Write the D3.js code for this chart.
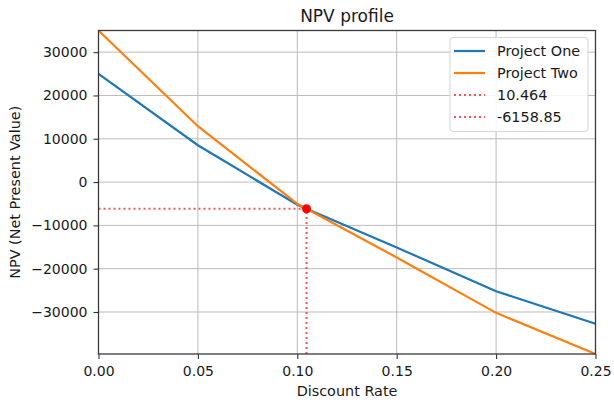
<!DOCTYPE html>
<html>
<head>
<meta charset="utf-8">
<script src="https://cdn.jsdelivr.net/npm/d3@7/dist/d3.min.js"></script>
<style>
  body { margin: 0; background: #fff; }
  text { font-family: "DejaVu Sans", sans-serif; fill: #1a1a1a; }
</style>
</head>
<body>
<svg id="chart" width="614" height="403"></svg>
<script>
// Discount rates at which both NPVs were evaluated
const rates = [0, 0.05, 0.10, 0.15, 0.20, 0.25];
// NPV of each project at those rates
const projectOne = [25000, 8500, -5250, -15100, -25200, -32700];
const projectTwo = [35000, 12900, -5020, -17400, -30200, -39700];
// Crossover (Fisher) point of the two profiles
const crossRate = 0.10464;
const crossNPV = -6158.85;
// Axis ticks
const xTicks = [0, 0.05, 0.10, 0.15, 0.20, 0.25];
const yTicks = [-30000, -20000, -10000, 0, 10000, 20000, 30000];
const seriesNames = ["Project One", "Project Two"];

const colors = { one: "#1f77b4", two: "#ff7f0e", cross: "#ff1a1a" };

const svg = d3.select("#chart");
const W = 614, H = 403;
const margin = { left: 98.5, right: W - 595.5, top: 30.5, bottom: H - 354 };

const allValues = projectOne.concat(projectTwo);
const x = d3.scaleLinear()
  .domain(d3.extent(rates))
  .range([margin.left, W - margin.right]);
const y = d3.scaleLinear()
  .domain(d3.extent(allValues))
  .range([H - margin.bottom, margin.top]);

const minus = s => s.replace("-", "\u2212");

// grid
const grid = svg.append("g").attr("stroke", "#bcbcbc").attr("stroke-width", 1);
grid.selectAll("line.gx").data(xTicks).join("line")
  .attr("x1", d => x(d)).attr("x2", d => x(d))
  .attr("y1", y.range()[0]).attr("y2", y.range()[1]);
grid.selectAll("line.gy").data(yTicks).join("line")
  .attr("y1", d => y(d)).attr("y2", d => y(d))
  .attr("x1", x.range()[0]).attr("x2", x.range()[1]);

// series lines
const line = vals => d3.line().x((d, i) => x(rates[i])).y(d => y(d))(vals);
svg.append("path").attr("d", line(projectOne))
  .attr("fill", "none").attr("stroke", colors.one).attr("stroke-width", 2.2);
svg.append("path").attr("d", line(projectTwo))
  .attr("fill", "none").attr("stroke", colors.two).attr("stroke-width", 2.2);

// crossover guides
svg.append("line")
  .attr("x1", x(crossRate)).attr("x2", x(crossRate))
  .attr("y1", y(y.domain()[0])).attr("y2", y(crossNPV))
  .attr("stroke", colors.cross).attr("stroke-opacity", 0.75)
  .attr("stroke-width", 2).attr("stroke-dasharray", "2,3");
svg.append("line")
  .attr("x1", x(0)).attr("x2", x(crossRate))
  .attr("y1", y(crossNPV)).attr("y2", y(crossNPV))
  .attr("stroke", colors.cross).attr("stroke-opacity", 0.75)
  .attr("stroke-width", 2).attr("stroke-dasharray", "2,3");
svg.append("circle")
  .attr("cx", x(crossRate)).attr("cy", y(crossNPV)).attr("r", 4.5)
  .attr("fill", "#ff0000");

// axes
const xAxis = d3.axisBottom(x).tickValues(xTicks).tickFormat(d3.format(".2f"))
  .tickSize(5).tickPadding(4);
const yAxis = d3.axisLeft(y).tickValues(yTicks).tickFormat(d => minus(String(d)))
  .tickSize(5).tickPadding(6);

const gx = svg.append("g").attr("transform", `translate(0,${y.range()[0]})`).call(xAxis);
const gy = svg.append("g").attr("transform", `translate(${x.range()[0]},0)`).call(yAxis);
[gx, gy].forEach(g => {
  g.select(".domain").remove();
  g.selectAll(".tick line").attr("stroke", "#333").attr("stroke-width", 1.1);
  g.selectAll(".tick text").attr("font-size", 14).attr("fill", "#1a1a1a")
    .style("font-family", "DejaVu Sans");
});
gx.selectAll(".tick text").attr("dy", "0.95em");

// frame
svg.append("rect")
  .attr("x", x.range()[0]).attr("y", y.range()[1])
  .attr("width", x.range()[1] - x.range()[0])
  .attr("height", y.range()[0] - y.range()[1])
  .attr("fill", "none").attr("stroke", "#3a3a3a").attr("stroke-width", 1.3);

// titles
svg.append("text").attr("x", (x.range()[0] + x.range()[1]) / 2).attr("y", 22)
  .attr("text-anchor", "middle").attr("font-size", 17).text("NPV profile");
svg.append("text").attr("x", (x.range()[0] + x.range()[1]) / 2).attr("y", 396)
  .attr("text-anchor", "middle").attr("font-size", 14.4).text("Discount Rate");
svg.append("text")
  .attr("transform", `translate(20,${(y.range()[0] + y.range()[1]) / 2}) rotate(-90)`)
  .attr("text-anchor", "middle").attr("font-size", 14.4).text("NPV (Net Present Value)");

// legend
const legendItems = [
  { label: seriesNames[0], color: colors.one, dash: null },
  { label: seriesNames[1], color: colors.two, dash: null },
  { label: (crossRate * 100).toFixed(3), color: colors.cross, dash: "2,3" },
  { label: crossNPV.toFixed(2), color: colors.cross, dash: "2,3" }
];
const lg = svg.append("g").attr("transform", "translate(450,37.5)");
lg.append("rect").attr("width", 138).attr("height", 94).attr("rx", 3)
  .attr("fill", "#fff").attr("fill-opacity", 0.85)
  .attr("stroke", "#d4d4d4").attr("stroke-width", 1);
const rows = lg.selectAll("g.row").data(legendItems).join("g")
  .attr("transform", (d, i) => `translate(0,${13.5 + i * 22})`);
rows.append("line").attr("x1", 4).attr("x2", 35)
  .attr("stroke", d => d.color).attr("stroke-width", 2.2)
  .attr("stroke-opacity", d => d.dash ? 0.75 : 1)
  .attr("stroke-dasharray", d => d.dash);
rows.append("text").attr("x", 47).attr("dy", "0.35em").attr("font-size", 14.4)
  .text(d => d.label);
</script>
</body>
</html>
